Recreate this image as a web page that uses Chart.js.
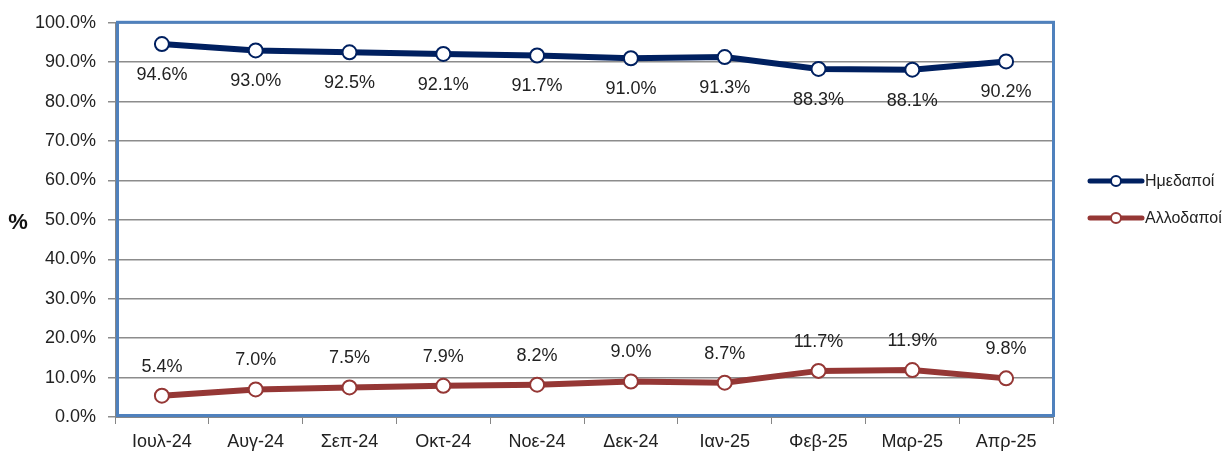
<!DOCTYPE html>
<html>
<head>
<meta charset="utf-8">
<script src="https://cdn.jsdelivr.net/npm/chart.js@4/dist/chart.umd.min.js"></script>
<style>
  html, body { margin: 0; padding: 0; background: #fff; }
  canvas { display: block; }
</style>
</head>
<body>
<canvas id="chart" width="1232" height="455"></canvas>
<script>
const months = ["Ιουλ-24", "Αυγ-24", "Σεπ-24", "Οκτ-24", "Νοε-24", "Δεκ-24", "Ιαν-25", "Φεβ-25", "Μαρ-25", "Απρ-25"];
const domestic = [94.6, 93.0, 92.5, 92.1, 91.7, 91.0, 91.3, 88.3, 88.1, 90.2];
const foreign = [5.4, 7.0, 7.5, 7.9, 8.2, 9.0, 8.7, 11.7, 11.9, 9.8];
const seriesNames = ["Ημεδαποί", "Αλλοδαποί"];

const FONT = "'Liberation Sans', Arial, sans-serif";
const NAVY = "#002060";
const RED = "#953735";

// value labels, border, legend and the "%" title
const extras = {
  id: "extras",
  afterDatasetsDraw(chart) {
    const ctx = chart.ctx;
    const area = chart.chartArea;
    ctx.save();
    ctx.font = "18px " + FONT;
    ctx.fillStyle = "#222";
    ctx.textAlign = "center";
    ctx.textBaseline = "middle";
    chart.data.datasets.forEach((ds, i) => {
      const meta = chart.getDatasetMeta(i);
      meta.data.forEach((pt, j) => {
        const dy = i === 0 ? 31 : -29;
        ctx.fillText(ds.data[j].toFixed(1) + "%", pt.x, pt.y + dy);
      });
    });

    // blue frame around plot area
    ctx.strokeStyle = "#4F81BD";
    ctx.lineWidth = 3;
    ctx.strokeRect(area.left + 2.5, area.top - 0.5, area.right - area.left - 2, area.bottom - area.top - 1);

    // "%" title
    ctx.font = "bold 22px " + FONT;
    ctx.fillStyle = "#111";
    ctx.fillText("%", 18, 223);

    // legend
    const items = [[seriesNames[0], NAVY, 181], [seriesNames[1], RED, 218]];
    items.forEach(([name, col, y]) => {
      ctx.strokeStyle = col;
      ctx.lineWidth = 5;
      ctx.lineCap = "round";
      ctx.beginPath();
      ctx.moveTo(1090, y);
      ctx.lineTo(1142, y);
      ctx.stroke();
      ctx.beginPath();
      ctx.arc(1116, y, 5, 0, Math.PI * 2);
      ctx.fillStyle = "#fff";
      ctx.fill();
      ctx.lineWidth = 2;
      ctx.stroke();
      ctx.fillStyle = "#222";
      ctx.font = "16px " + FONT;
      ctx.textAlign = "left";
      ctx.fillText(name, 1145, y + 1);
    });
    ctx.restore();
  }
};

new Chart(document.getElementById("chart"), {
  type: "line",
  data: {
    labels: months,
    datasets: [
      {
        label: seriesNames[0],
        data: domestic,
        borderColor: NAVY,
        borderWidth: 6,
        pointRadius: 7,
        pointBorderWidth: 2,
        pointBackgroundColor: "#fff",
        pointBorderColor: NAVY,
        tension: 0
      },
      {
        label: seriesNames[1],
        data: foreign,
        borderColor: RED,
        borderWidth: 6,
        pointRadius: 7,
        pointBorderWidth: 2,
        pointBackgroundColor: "#fff",
        pointBorderColor: RED,
        tension: 0
      }
    ]
  },
  options: {
    responsive: false,
    animation: false,
    layout: { padding: { left: 0, right: 179, top: 22, bottom: 0 } },
    plugins: {
      legend: { display: false },
      tooltip: { enabled: false }
    },
    scales: {
      x: {
        offset: true,
        afterFit: s => { s.height = 38; },
        grid: { offset: true, drawOnChartArea: false, drawTicks: true, tickLength: 7, color: "#868686" },
        border: { color: "#868686", width: 1 },
        ticks: { padding: 7, color: "#222", font: { family: FONT, size: 18 }, maxRotation: 0 }
      },
      y: {
        min: 0,
        max: 100,
        afterFit: s => { s.width = 115; },
        grid: { color: "#8c8c8c", lineWidth: 1.5, tickLength: 7 },
        border: { color: "#868686", width: 1 },
        ticks: {
          stepSize: 10,
          padding: 12,
          color: "#222",
          font: { family: FONT, size: 18 },
          callback: v => v.toFixed(1) + "%"
        }
      }
    }
  },
  plugins: [extras]
});
</script>
</body>
</html>
